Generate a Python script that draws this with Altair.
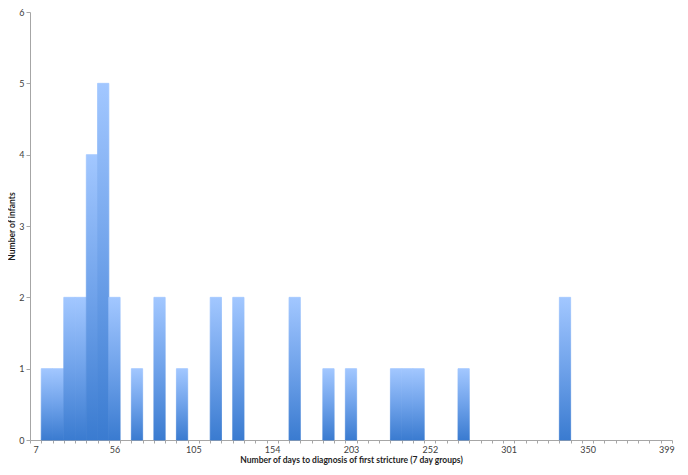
import altair as alt
import pandas as pd

# 7-day groups (category labels = group value in days)
day_groups = list(range(7, 400, 7))  # 57 groups: 7 .. 399
infants = [
    0, 1, 1, 2, 2, 4, 5, 2, 0, 1,      # 7 .. 70
    0, 2, 0, 1, 0, 0, 2, 0, 2, 0,      # 77 .. 140
    0, 0, 0, 2, 0, 0, 1, 0, 1, 0,      # 147 .. 210
    0, 0, 1, 1, 1, 0, 0, 0, 1, 0,      # 217 .. 280
    0, 0, 0, 0, 0, 0, 0, 2, 0, 0,      # 287 .. 350
    0, 0, 0, 0, 0, 0, 0,               # 357 .. 399
]
assert len(infants) == len(day_groups)
label_days = [7, 56, 105, 154, 203, 252, 301, 350, 399]
y_ticks = [0, 1, 2, 3, 4, 5, 6]
boundaries = [3.5 + 7 * i for i in range(len(day_groups) + 1)]

df = pd.DataFrame({"day": day_groups, "infants": infants})

FONT = "Lato"
AXIS_GREY = "#a6a6a6"
LABEL_COL = "#404040"
TITLE_COL = "#1e1e1e"

W, H = 642, 428

base = alt.Chart(df).transform_calculate(
    start="datum.day - 3.5", end="datum.day + 3.5"
)
xscale = alt.Scale(domain=[3.5, 402.5], nice=False, zero=False)

grad = alt.Gradient(
    gradient="linear",
    stops=[
        alt.GradientStop(color="#a2c7ff", offset=0),
        alt.GradientStop(color="#6fa2ea", offset=0.5),
        alt.GradientStop(color="#3a7bd0", offset=1),
    ],
    x1=0, x2=0, y1=0, y2=1,
)

bars = base.transform_filter("datum.infants > 0").mark_bar(
    color=grad, stroke=grad, strokeWidth=0.8
).encode(
    x=alt.X(
        "start:Q",
        scale=xscale,
        axis=alt.Axis(
            values=boundaries, labels=False, ticks=True, tickSize=3,
            domain=True, grid=False, title=None, orient="bottom",
            domainColor=AXIS_GREY, tickColor=AXIS_GREY,
        ),
    ),
    x2="end:Q",
    y=alt.Y(
        "infants:Q",
        scale=alt.Scale(domain=[0, 6], nice=False),
        axis=alt.Axis(
            values=y_ticks, format="d", grid=False, tickSize=4,
            domainColor=AXIS_GREY, tickColor=AXIS_GREY,
            labelFont=FONT, labelFontSize=9, labelColor=LABEL_COL, labelPadding=2,
            title="Number of infants", titleFont=FONT, titleFontSize=8.5,
            titleFontWeight="bold", titleColor=TITLE_COL,
            titleX=-19, titleY=H / 2, titleBaseline="middle", titleAlign="center",
            titleAngle=270,
        ),
    ),
    y2=alt.datum(0),
)

label_layer = base.mark_bar(opacity=0).encode(
    x=alt.X(
        "start:Q",
        scale=xscale,
        axis=alt.Axis(
            values=label_days, format="d", ticks=False, domain=False, grid=False,
            orient="bottom", labelFont=FONT, labelFontSize=9, labelColor=LABEL_COL,
            labelPadding=5,
            title="Number of days to diagnosis of first stricture (7 day groups)",
            titleFont=FONT, titleFontSize=8.5, titleFontWeight="bold",
            titleColor=TITLE_COL, titlePadding=1,
        ),
    ),
    x2="end:Q",
)

chart = (
    alt.layer(bars, label_layer)
    .resolve_axis(x="independent")
    .properties(
        width=W, height=H,
        autosize=alt.AutoSizeParams(type="none"),
        padding={"left": 22, "top": 4, "right": 8, "bottom": 27},
        background="white",
    )
    .configure_view(stroke=None)
)

chart.save("out.html", embed_options={"renderer": "svg", "actions": False})
